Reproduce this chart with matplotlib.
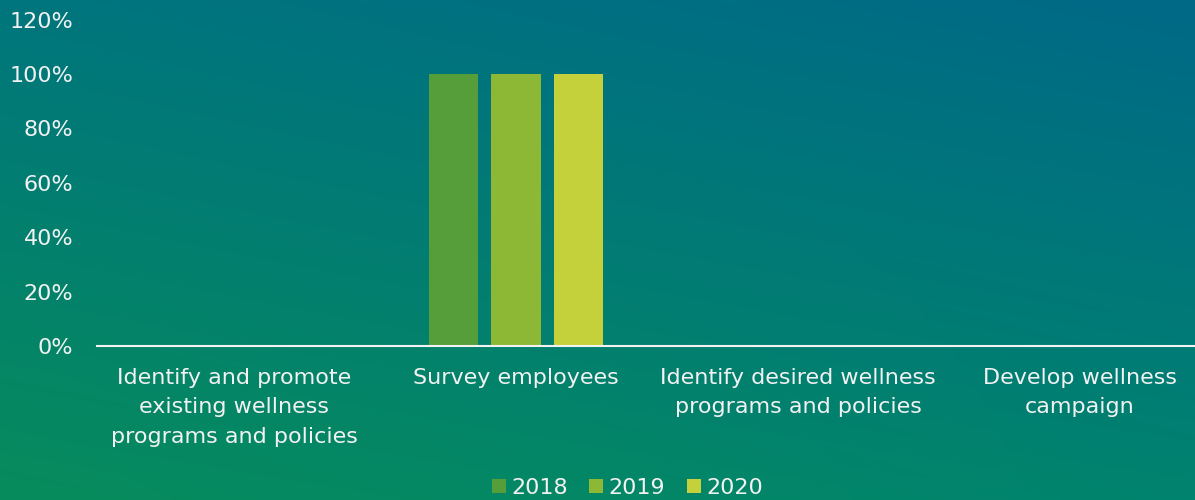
import numpy as np
import matplotlib.pyplot as plt
from matplotlib.patches import Patch
from matplotlib.colors import to_rgb

plt.rcParams['font.family'] = ['DejaVu Sans']

# 数据
categories = ['Identify and promote\nexisting wellness\nprograms and policies',
              'Survey employees',
              'Identify desired wellness\nprograms and policies',
              'Develop wellness\ncampaign']
years = ['2018', '2019', '2020']
values_2018 = [0, 1.0, 0, 0]
values_2019 = [0, 1.0, 0, 0]
values_2020 = [0, 1.0, 0, 0]
y_ticks = [0, 0.2, 0.4, 0.6, 0.8, 1.0, 1.2]

colors = ['#559E3A', '#8DB836', '#C4D13A']
text_color = '#F2F2F2'

fig = plt.figure(figsize=(11.95, 5), dpi=100)

# 背景渐变：左下绿色 -> 右上蓝绿色
bg = fig.add_axes([0, 0, 1, 1], zorder=-10)
c_tl = np.array(to_rgb('#00767D'))
c_tr = np.array(to_rgb('#006987'))
c_bl = np.array(to_rgb('#078C5C'))
c_br = np.array(to_rgb('#00836F'))
u = np.linspace(0, 1, 300)[None, :, None]
v = np.linspace(0, 1, 130)[:, None, None]
img = (1 - v) * ((1 - u) * c_tl + u * c_tr) + v * ((1 - u) * c_bl + u * c_br)
bg.imshow(img, aspect='auto', extent=[0, 1, 0, 1], interpolation='bilinear')
bg.axis('off')

# 主图区域
left_px, right_px, bottom_px, top_px = 97, 1195, 346, 19.6
ax = fig.add_axes([left_px / 1195, (500 - bottom_px) / 500,
                   (right_px - left_px) / 1195, (bottom_px - top_px) / 500])
ax.patch.set_alpha(0)

x = np.arange(len(categories))
bar_w = 0.174
step = 0.222
series = [values_2018, values_2019, values_2020]
for i, (vals, c, lab) in enumerate(zip(series, colors, years)):
    ax.bar(x + (i - 1) * step, vals, width=bar_w, color=c, label=lab, zorder=2)

ax.set_xlim(-(234 - 97) / 282, (1195 - 234) / 282)
ax.set_ylim(0, 1.2)
ax.set_yticks(y_ticks)
ax.set_yticklabels([f'{int(round(t * 100))}%' for t in y_ticks])
ax.set_xticks(x)
ax.set_xticklabels(categories, linespacing=1.62)

for s in ['top', 'right', 'left']:
    ax.spines[s].set_visible(False)
ax.spines['bottom'].set_color(text_color)
ax.spines['bottom'].set_linewidth(1.5)
ax.tick_params(axis='y', length=0, pad=17, labelsize=16, labelcolor=text_color)
ax.tick_params(axis='x', length=0, pad=15.5, labelsize=16, labelcolor=text_color)

handles = [Patch(facecolor=c, label=l) for c, l in zip(colors, years)]
fig.legend(handles=handles, loc='center', bbox_to_anchor=(0.525, 0.024),
           ncol=3, frameon=False, fontsize=16, labelcolor=text_color,
           handlelength=0.63, handleheight=0.63, handletextpad=0.25,
           columnspacing=0.95, borderpad=0)

fig.savefig('out.png', dpi=100)
